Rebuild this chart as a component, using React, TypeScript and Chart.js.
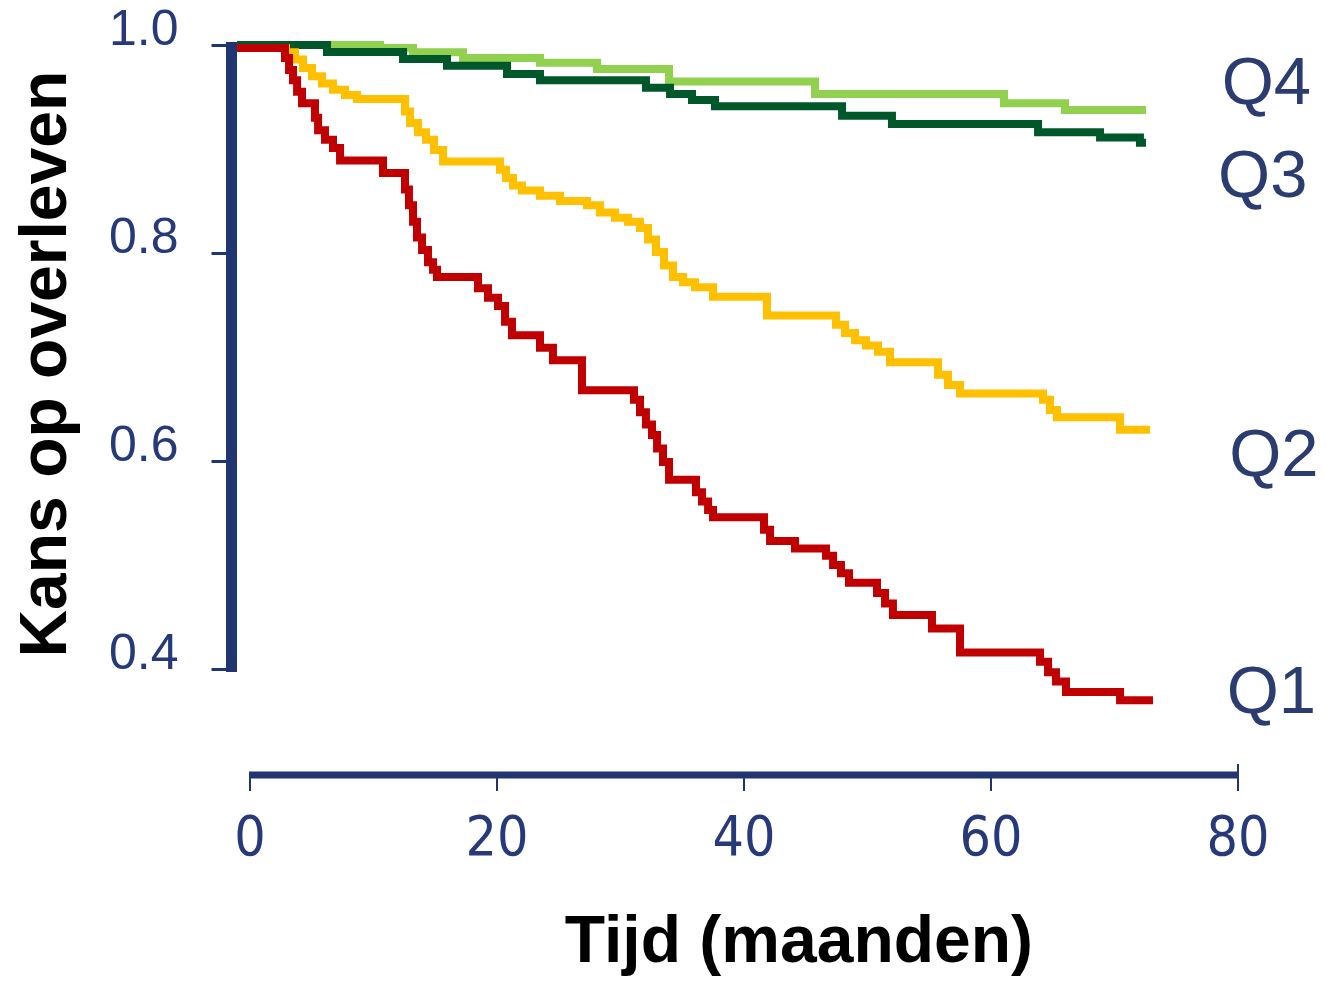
import React, { useEffect, useRef } from 'react';
import { Chart, registerables } from 'chart.js';

Chart.register(...registerables);

// Axis ticks
const xTicks = [0, 20, 40, 60, 80];
const yTicks = [0.4, 0.6, 0.8, 1.0];

// Q1 (red)
const q1Months = [-1.05, 2.83, 3.16, 3.48, 3.81, 4.21, 5.26, 5.51, 6.07, 6.72, 7.29, 10.77, 12.55, 12.87, 13.2, 13.52, 13.93, 14.41, 14.82, 15.14, 18.46, 19.27, 20.08, 20.65, 21.21, 23.48, 24.53, 26.88, 31.09, 31.58, 32.06, 32.55, 32.96, 33.44, 33.93, 36.11, 36.6, 37.09, 37.49, 41.62, 42.11, 44.13, 46.64, 47.21, 47.85, 48.5, 50.77, 51.42, 52.06, 55.22, 57.49, 63.97, 64.62, 65.26, 66.07, 70.45, 73.12];
const q1Surv = [0.997, 0.9875, 0.976, 0.966, 0.955, 0.944, 0.93, 0.918, 0.909, 0.901, 0.889, 0.877, 0.861, 0.846, 0.83, 0.815, 0.803, 0.791, 0.784, 0.777, 0.766, 0.757, 0.749, 0.734, 0.721, 0.709, 0.697, 0.668, 0.659, 0.647, 0.635, 0.625, 0.612, 0.599, 0.582, 0.57, 0.561, 0.553, 0.546, 0.534, 0.523, 0.516, 0.509, 0.5, 0.492, 0.483, 0.473, 0.463, 0.452, 0.439, 0.416, 0.407, 0.397, 0.388, 0.378, 0.37, 0.37];

// Q2 (yellow)
const q2Months = [-1.05, 2.91, 3.64, 4.29, 5.02, 5.83, 6.72, 7.69, 8.66, 12.55, 12.96, 13.6, 14.25, 14.9, 15.63, 20.24, 20.73, 21.3, 22.02, 23.48, 25.1, 27.29, 28.34, 29.55, 30.61, 31.58, 32.23, 32.87, 33.52, 34.25, 35.06, 36.03, 37.49, 41.86, 47.45, 48.18, 48.99, 49.88, 50.85, 51.82, 55.71, 56.52, 57.49, 64.21, 64.78, 65.34, 70.45, 72.87];
const q2Surv = [0.997, 0.993, 0.986, 0.978, 0.97, 0.963, 0.957, 0.952, 0.948, 0.936, 0.925, 0.916, 0.909, 0.899, 0.888, 0.88, 0.872, 0.865, 0.86, 0.855, 0.85, 0.846, 0.839, 0.834, 0.83, 0.824, 0.813, 0.801, 0.788, 0.777, 0.772, 0.767, 0.758, 0.74, 0.731, 0.723, 0.716, 0.711, 0.705, 0.695, 0.683, 0.673, 0.665, 0.659, 0.649, 0.642, 0.63, 0.63];

// Q3 (dark green)
const q3Months = [-1.05, 6.23, 12.39, 15.95, 20.81, 23.48, 32.06, 34.01, 35.79, 37.65, 47.94, 51.98, 63.81, 68.83, 72.06, 72.55];
const q3Surv = [1.0, 0.9933, 0.9865, 0.98, 0.972, 0.966, 0.959, 0.953, 0.947, 0.941, 0.932, 0.924, 0.916, 0.911, 0.906, 0.906];

// Q4 (light green)
const q4Months = [-1.05, 10.53, 13.2, 17.25, 23.48, 28.1, 33.93, 45.75, 61.05, 65.99, 72.55];
const q4Surv = [1.0, 0.997, 0.993, 0.9875, 0.983, 0.977, 0.965, 0.953, 0.944, 0.9375, 0.9375];

// Series (first one is drawn on top)
const seriesNames = ['Q1', 'Q2', 'Q3', 'Q4'];
const seriesColors = ['#c00000', '#ffc000', '#00582a', '#92d050'];

// Curve end labels
const qLabels = ['Q4', 'Q3', 'Q2', 'Q1'];
const qLabelX = [82.3, 82.0, 82.9, 82.7];
const qLabelY = [0.9615, 0.872, 0.603, 0.375];

const NAVY = '#213570';
const TICK_COLOR = '#26397a';

const toPoints = (xs: number[], ys: number[]) => xs.map((x, i) => ({ x, y: ys[i] }));

const axisPlugin = {
  id: 'axisLines',
  afterDatasetsDraw(chart: any) {
    const { ctx, chartArea, scales } = chart;
    const xs = scales.x;
    const ys = scales.y;
    ctx.save();
    ctx.strokeStyle = NAVY;
    ctx.lineCap = 'butt';
    // y axis line
    ctx.lineWidth = 11;
    ctx.beginPath();
    ctx.moveTo(chartArea.left, ys.getPixelForValue(yTicks[yTicks.length - 1]) - 3);
    ctx.lineTo(chartArea.left, ys.getPixelForValue(yTicks[0]) + 3);
    ctx.stroke();
    // x axis line
    ctx.lineWidth = 7;
    ctx.beginPath();
    ctx.moveTo(xs.getPixelForValue(xTicks[0]) - 1, chartArea.bottom);
    ctx.lineTo(xs.getPixelForValue(xTicks[xTicks.length - 1]) + 1, chartArea.bottom);
    ctx.stroke();
    // end tick extends upward
    ctx.lineWidth = 2;
    ctx.beginPath();
    const xe = xs.getPixelForValue(xTicks[xTicks.length - 1]);
    ctx.moveTo(xe, chartArea.bottom - 11);
    ctx.lineTo(xe, chartArea.bottom);
    ctx.stroke();
    // Q labels
    ctx.fillStyle = '#2b3c70';
    ctx.font = '67px "Liberation Sans", Arial, sans-serif';
    ctx.textAlign = 'center';
    ctx.textBaseline = 'middle';
    qLabels.forEach((t, i) => {
      ctx.fillText(t, xs.getPixelForValue(qLabelX[i]), ys.getPixelForValue(qLabelY[i]));
    });
    ctx.restore();
  },
};

export default function App() {
  const ref = useRef<HTMLCanvasElement | null>(null);

  useEffect(() => {
    if (!ref.current) return;
    const datasets = [
      toPoints(q1Months, q1Surv),
      toPoints(q2Months, q2Surv),
      toPoints(q3Months, q3Surv),
      toPoints(q4Months, q4Surv),
    ].map((data, i) => ({
      label: seriesNames[i],
      data,
      borderColor: seriesColors[i],
      backgroundColor: seriesColors[i],
      borderWidth: 8,
      pointRadius: 0,
      stepped: true as const,
      fill: false,
      clip: false as any,
      borderJoinStyle: 'miter' as const,
    }));

    const chart = new Chart(ref.current, {
      type: 'line',
      data: { datasets },
      options: {
        animation: false,
        responsive: false,
        devicePixelRatio: 1,
        layout: { padding: { top: 45, right: 89, bottom: 0, left: 0 } },
        plugins: { legend: { display: false }, tooltip: { enabled: false } },
        scales: {
          x: {
            type: 'linear',
            min: -1.5,
            max: 80,
            border: { display: false },
            grid: { drawOnChartArea: false, drawTicks: true, tickLength: 16, color: NAVY, lineWidth: 2 },
            afterBuildTicks: (s: any) => { s.ticks = xTicks.map((v) => ({ value: v })); },
            afterFit: (s: any) => { s.height = 208; s.paddingLeft = 0; s.paddingRight = 0; },
            ticks: {
              color: TICK_COLOR,
              padding: 17,
              maxRotation: 0,
              autoSkip: false,
              font: { family: '"Liberation Sans Narrow", "DejaVu Sans Condensed", "Liberation Sans", sans-serif', size: 55 },
              callback: (v: any) => String(v),
            },
            title: {
              display: true,
              text: '       Tijd (maanden)',
              color: '#000000',
              padding: { top: 0, bottom: 0 },
              font: { family: '"Liberation Sans", Arial, sans-serif', size: 66, weight: 'bold' },
            },
          },
          y: {
            type: 'linear',
            min: 0.2981,
            max: 1.0,
            border: { display: false },
            grid: { drawOnChartArea: false, drawTicks: true, tickLength: 20, color: NAVY, lineWidth: 3 },
            afterBuildTicks: (s: any) => { s.ticks = yTicks.map((v) => ({ value: v })); },
            afterFit: (s: any) => { s.width = 231.5; s.paddingTop = 0; s.paddingBottom = 0; },
            ticks: {
              color: TICK_COLOR,
              padding: 33,
              labelOffset: -14,
              autoSkip: false,
              font: { family: '"Liberation Sans", Arial, sans-serif', size: 50 },
              callback: (v: any) => Number(v).toFixed(1),
            },
            title: {
              display: true,
              text: '     Kans op overleven',
              color: '#000000',
              padding: { top: 8, bottom: 0 },
              font: { family: '"Liberation Sans", Arial, sans-serif', size: 66, weight: 'bold' },
            },
          },
        },
      },
      plugins: [axisPlugin],
    });
    return () => chart.destroy();
  }, []);

  return (
    <div style={{ position: 'absolute', left: 0, top: 0, width: 1327, height: 983, background: '#ffffff' }}>
      <canvas ref={ref} width={1327} height={983} style={{ display: 'block' }} />
    </div>
  );
}
